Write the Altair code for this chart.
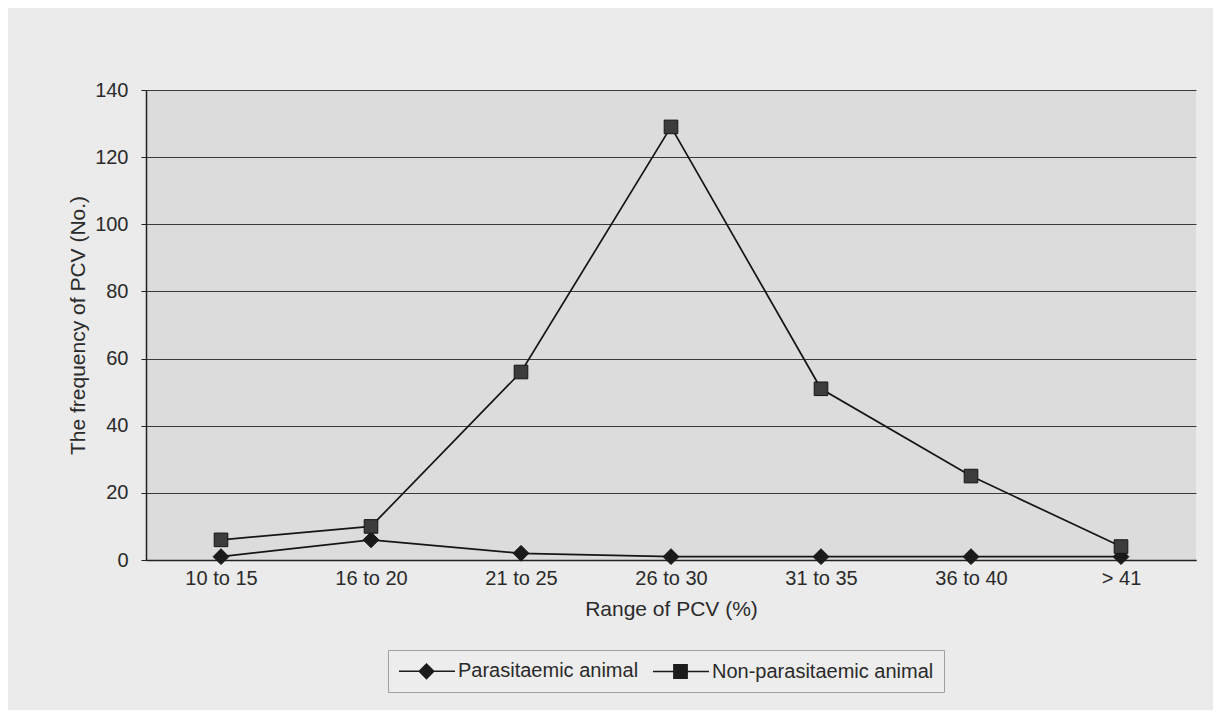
import altair as alt
import pandas as pd

categories = ["10 to 15", "16 to 20", "21 to 25", "26 to 30", "31 to 35", "36 to 40", "> 41"]
parasitaemic = [1, 6, 2, 1, 1, 1, 1]
non_parasitaemic = [6, 10, 56, 129, 51, 25, 4]
series_names = ["Parasitaemic animal", "Non-parasitaemic animal"]
y_ticks = [0, 20, 40, 60, 80, 100, 120, 140]

rows = []
for c, v in zip(categories, parasitaemic):
    rows.append({"range": c, "value": v, "series": series_names[0]})
for c, v in zip(categories, non_parasitaemic):
    rows.append({"range": c, "value": v, "series": series_names[1]})
df = pd.DataFrame(rows)

FONT = "Liberation Sans"


# legend glyphs: a line with a solid marker drawn on it (marker filled with concentric strokes)
def legend_glyph(kind, cx=1.75, half=0.7):
    parts = ["M-1,0H4.6"]
    r = half
    while r > 0.05:
        if kind == "diamond":
            parts.append(f"M{cx - r:.3f},0L{cx:.3f},{-r:.3f}L{cx + r:.3f},0L{cx:.3f},{r:.3f}Z")
        else:
            parts.append(f"M{cx - r:.3f},{-r:.3f}H{cx + r:.3f}V{r:.3f}H{cx - r:.3f}Z")
        r -= 0.13
    return "".join(parts)


diamond_path = legend_glyph("diamond", half=0.72)
square_path = legend_glyph("square", half=0.66)

LEFT_PAD = 138
TOP_PAD = 82

x_enc = alt.X("range:N", sort=categories, scale=alt.Scale(paddingInner=0, paddingOuter=0),
              axis=alt.Axis(title="Range of PCV (%)", labelAngle=0, ticks=False,
                            labelPadding=8, titlePadding=10))
y_enc = alt.Y("value:Q", scale=alt.Scale(domain=[0, 140], nice=False),
              axis=alt.Axis(title="The frequency of PCV (No.)", values=y_ticks,
                            tickSize=5, labelPadding=13, titlePadding=6))

lines = alt.Chart(df).mark_line(strokeWidth=1.7, color="#151515").encode(
    x=x_enc, y=y_enc, detail="series:N",
)

points = alt.Chart(df).mark_point(filled=True, opacity=1, stroke="#151515",
                                  strokeWidth=1).encode(
    x=x_enc, y=y_enc,
    fill=alt.Fill("series:N", scale=alt.Scale(domain=series_names, range=["#1a1a1a", "#3c3c3c"]),
                  legend=None),
    shape=alt.Shape("series:N", scale=alt.Scale(domain=series_names, range=["diamond", "square"]),
                    legend=None),
    size=alt.Size("series:N", scale=alt.Scale(domain=series_names, range=[250, 185]),
                  legend=None),
)

legend_layer = alt.Chart(df).mark_point(
    filled=False, opacity=0, color="#1c1c1c", strokeWidth=1.6
).encode(
    x=x_enc, y=y_enc,
    shape=alt.Shape("series:N", sort=series_names,
                    scale=alt.Scale(domain=series_names, range=[diamond_path, square_path]),
                    legend=alt.Legend(title=None, orient="none",
                                      legendX=388 - 8 - LEFT_PAD, legendY=650 - 8 - TOP_PAD,
                                      direction="horizontal", strokeColor="#a0a0a0",
                                      fillColor="#ededed", padding=10,
                                      symbolSize=400, symbolStrokeColor="#1c1c1c",
                                      symbolOpacity=1, symbolStrokeWidth=1.6,
                                      labelOffset=38, columnPadding=10,
                                      labelFontSize=20, labelFont=FONT,
                                      labelLimit=400, labelColor="#2a2a2a")),
)

chart = alt.layer(lines, points, legend_layer).resolve_scale(
    shape="independent"
).properties(
    width=1050, height=470,
    autosize=alt.AutoSizeParams(type="none"),
    padding={"left": LEFT_PAD, "top": TOP_PAD, "right": 17, "bottom": 150},
    background="#ebebeb",
).configure_view(
    fill="#dcdcdc", stroke=None,
).configure_axis(
    labelFont=FONT, titleFont=FONT, labelFontSize=20, titleFontSize=21,
    labelColor="#2a2a2a", titleColor="#2a2a2a", titleFontWeight="normal",
    domainColor="#222222", domainWidth=1.5, tickColor="#222222",
    gridColor="#3a3a3a", gridWidth=1,
).configure_axisX(grid=False).configure_axisY(grid=True)

chart.save("out.html", embed_options={"renderer": "svg", "actions": False})
